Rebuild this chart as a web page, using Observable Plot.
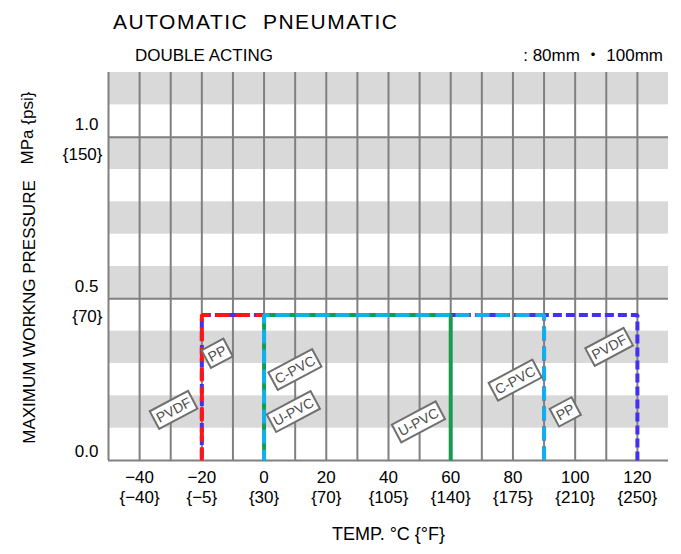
<!DOCTYPE html>
<html><head><meta charset="utf-8">
<script src="https://cdn.jsdelivr.net/npm/d3@7"></script>
<script src="https://cdn.jsdelivr.net/npm/@observablehq/plot@0.6"></script>
<style>
body{margin:0;background:#fff;}
#chart{position:relative;width:681px;height:554px;font-family:"Liberation Sans",Arial,"Noto Sans CJK JP",sans-serif;color:#000;}
.t{position:absolute;white-space:pre;line-height:1;}
</style></head><body><div id="chart"></div>
<script>
// ---- data ----
const titleText = "AUTOMATIC  PNEUMATIC";
const subtitleText = "DOUBLE ACTING";
const sizeText = ": 80mm ・ 100mm";
const yTitle = "MAXIMUM WORKNG PRESSURE";
const yUnit = "MPa {psi}";
const xTitle = "TEMP. °C {°F}";

const tickC = [-40, -20, 0, 20, 40, 60, 80, 100, 120];
const tickF = ["{−40}", "{−5}", "{30}", "{70}", "{105}", "{140}", "{175}", "{210}", "{250}"];
const yMajor = [1.0, 0.5];
const yZero = [0.0];
const psiLabels = ["{150}", "{70}"];
const gridT = [-50, -40, -30, -20, -10, 0, 10, 20, 30, 40, 50, 60, 70, 80, 90, 100, 110, 120];
const bandStarts = [0.1, 0.3, 0.5, 0.7, 0.9, 1.1];
const bandHeight = 0.1;

// series outlines (temperature °C, pressure MPa)
const pvdfT = [120, 120, -20, -20], pvdfP = [0, 0.45, 0.45, 0];
const ppT   = [90, 90, -20, -20],   ppP   = [0, 0.45, 0.45, 0];
const upvcT = [60, 60, 0, 0],       upvcP = [0, 0.45, 0.45, 0];
const cpvcT = [90, 90, 0, 0],       cpvcP = [0, 0.45, 0.45, 0];

// label boxes
const labelText = ["PVDF", "PP", "C-PVC", "U-PVC", "U-PVC", "C-PVC", "PP", "PVDF"];
const labelT    = [-29, -15, 10, 9.5, 49.7, 80.8, 96.9, 111];
const labelP    = [0.155, 0.33, 0.28, 0.15, 0.118, 0.247, 0.149, 0.35];

const toRows = (T, P) => T.map((t, i) => ({t, p: P[i]}));
const labels = labelText.map((s, i) => ({s, t: labelT[i], p: labelP[i]}));

const gray = "#808080";
const labelFill = "#4b4b4b";
const lineOpts = {x: "t", y: "p", strokeWidth: 4, strokeLinecap: "butt", strokeLinejoin: "miter"};

const plot = Plot.plot({
  width: 681, height: 554,
  marginTop: 72, marginRight: 13, marginBottom: 94, marginLeft: 108,
  style: {fontFamily: '"Liberation Sans", Arial, sans-serif', fontSize: "17px", color: "#000", background: "#fff"},
  x: {domain: [-50, 130], label: null},
  y: {domain: [0, 1.2], axis: null},
  marks: [
    Plot.rect(bandStarts, {y1: d => d, y2: d => d + bandHeight, fill: "#d9d9d9"}),
    Plot.ruleX(gridT, {stroke: gray, strokeWidth: 2}),
    Plot.ruleY([0, 0.5, 1.0], {stroke: gray, strokeWidth: 2}),
    Plot.line(toRows(pvdfT, pvdfP), {...lineOpts, stroke: "#4430f0", strokeDasharray: "9,4"}),
    Plot.line(toRows(ppT, ppP), {...lineOpts, stroke: "#ff1414", strokeDasharray: "14,6"}),
    Plot.line(toRows(upvcT, upvcP), {...lineOpts, stroke: "#1a9a4c"}),
    Plot.line(toRows(cpvcT, cpvcP), {...lineOpts, stroke: "#10b0ee", strokeDasharray: "14,6"}),
    Plot.text(labels, {x: "t", y: "p", text: "s", rotate: -28, fontSize: 14, fill: labelFill}),
    Plot.axisX(tickC, {tickSize: 0, tickPadding: 10, fontSize: 17, label: null}),
    Plot.text(tickC, {x: d => d, text: (d, i) => tickF[i], frameAnchor: "bottom", dy: 42, fontSize: 17}),
    Plot.text(yMajor, {y: d => d, text: d => d.toFixed(1), frameAnchor: "left", textAnchor: "end", dx: -10, dy: -12.5, fontSize: 17}),
    Plot.text(yZero, {y: d => d, text: d => d.toFixed(1), frameAnchor: "left", textAnchor: "end", dx: -10, dy: -8.5, fontSize: 17}),
    Plot.text(yMajor, {y: d => d, text: (d, i) => psiLabels[i], frameAnchor: "left", textAnchor: "end", dx: -6, dy: 17.5, fontSize: 17}),
    Plot.text([xTitle], {frameAnchor: "bottom", dy: 79, fontSize: 18})
  ]
});

const chart = document.getElementById("chart");
chart.appendChild(plot);

// boxes behind rotated labels
const labelSet = new Set(labelText);
d3.select(plot).selectAll("text").each(function () {
  const tr = this.getAttribute("transform") || "";
  const g = this.parentNode;
  const rotated = /rotate/.test(tr) || /rotate/.test(g.getAttribute("transform") || "");
  if (!labelSet.has(this.textContent) || !rotated) return;
  const b = this.getBBox();
  const pad = 3;
  const r = document.createElementNS("http://www.w3.org/2000/svg", "rect");
  r.setAttribute("x", b.x - pad);
  r.setAttribute("y", b.y - pad + 1);
  r.setAttribute("width", b.width + 2 * pad);
  r.setAttribute("height", b.height + 2 * pad - 2);
  r.setAttribute("fill", "#fff");
  r.setAttribute("stroke", "#707070");
  r.setAttribute("stroke-width", 2);
  if (tr) r.setAttribute("transform", tr);
  g.insertBefore(r, this);
});

// y-axis titles (rotated)
const svg = d3.select(plot);
svg.append("text").attr("transform", "translate(35,312) rotate(-90)")
  .attr("text-anchor", "middle").attr("font-size", 17).attr("fill", "#000").text(yTitle);
svg.append("text").attr("transform", "translate(33,128) rotate(-90)")
  .attr("text-anchor", "middle").attr("font-size", 17).attr("fill", "#000").text(yUnit);

// titles
function addText(txt, css) {
  const d = document.createElement("div");
  d.className = "t"; d.textContent = txt; d.style.cssText += css;
  chart.appendChild(d);
}
addText(titleText, "left:113px;top:11px;font-size:21px;letter-spacing:1.5px;");
addText(subtitleText, "left:135px;top:47px;font-size:17px;");
addText(sizeText, "right:18px;top:47px;font-size:17px;");
</script></body></html>
